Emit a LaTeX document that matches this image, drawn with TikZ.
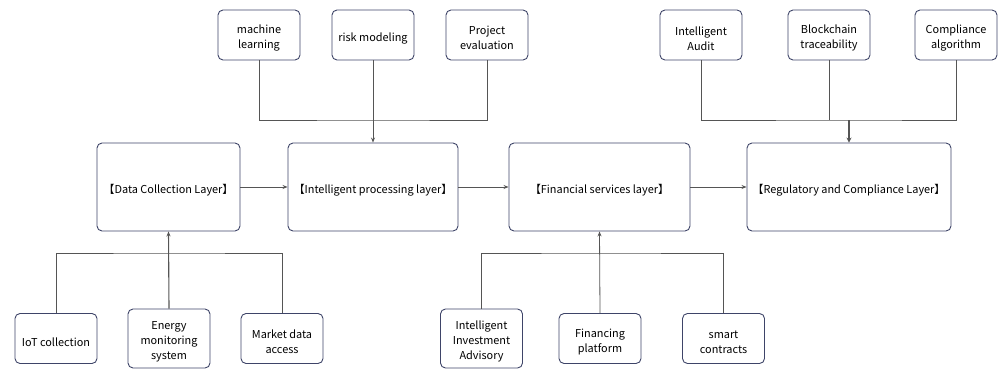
\documentclass[tikz,border=0pt]{standalone}
\usepackage{fontspec}
\setmainfont{Noto Sans CJK SC}
\usetikzlibrary{arrows.meta}
\definecolor{boxline}{HTML}{3E4468}
\definecolor{conn}{HTML}{555555}
\tikzset{
  txt/.style={align=center, font=\fontsize{10.9}{15}\selectfont, inner sep=0pt, yshift=-3.3pt},
  box/.style={draw=boxline, line width=0.9pt, rounded corners=5pt, inner sep=0pt,
    label={[txt]center:{#1}}},
  small/.style={box={#1}, minimum width=82pt, minimum height=50pt},
  tall/.style={box={#1}, minimum width=82pt, minimum height=59pt},
  layer/.style={box={#1}, minimum height=88pt},
  link/.style={draw=conn, line width=0.8pt},
  arr/.style={link, -{Stealth[length=5pt,width=4pt]}},
}
\begin{document}
\begin{tikzpicture}[x=1pt,y=-1pt]
\useasboundingbox (0,0) rectangle (1000,369);
% layers
\node[layer={【Data Collection Layer】}, minimum width=143pt] (dcl) at (168.5,187) {};
\node[layer={【Intelligent processing layer】}, minimum width=170pt] (ipl) at (373,187) {};
\node[layer={【Financial services layer】}, minimum width=181pt] (fsl) at (599.5,187) {};
\node[layer={【Regulatory and Compliance Layer】}, minimum width=204pt] (rcl) at (849,187) {};
% top boxes
\node[small={machine\\learning}] (ml) at (259,35) {};
\node[small={risk modeling}] (rm) at (373,35) {};
\node[small={Project\\evaluation}] (pe) at (487,35) {};
\node[small={Intelligent\\Audit}] (ia) at (701,35) {};
\node[small={Blockchain\\traceability}] (bt) at (829,35) {};
\node[small={Compliance\\algorithm}] (ca) at (956,35) {};
% bottom boxes
\node[small={IoT collection}] (iot) at (56,338.5) {};
\node[tall={Energy\\monitoring\\system}] (ems) at (169,338.5) {};
\node[small={Market data\\access}] (mda) at (282,338.5) {};
\node[tall={Intelligent\\Investment\\Advisory}] (iia) at (481.5,338.5) {};
\node[small={Financing\\platform}] (fp) at (600,338.5) {};
\node[small={smart\\contracts}] (sc) at (723.5,338.5) {};
% junctions
\coordinate (j1) at (373,120);
\coordinate (j2) at (849,120);
\coordinate (j3) at (169,253);
\coordinate (j4) at (600,253);
% top-left group
\draw[link] (ml.south) |- (j1) -| (pe.south);
\draw[link] (rm.south) -- (j1);
\draw[arr] (j1) -- (ipl.north);
% top-right group
\draw[link] (ia.south) |- (j2) -| (ca.south);
\draw[link] (bt.south) -- (bt.south |- j2);
\draw[link, line width=1.4pt, -{Stealth[length=5pt,width=5pt]}] (j2) -- (rcl.north);
% bottom-left group
\draw[link] (iot.north) |- (j3) -| (mda.north);
\draw[arr, line width=1.1pt] (ems.north) -- (dcl.south);
% bottom-right group
\draw[link] (iia.north) |- (j4) -| (sc.north);
\draw[arr] (fp.north) -- (fsl.south);
% layer arrows
\draw[arr] (dcl.east) -- (ipl.west);
\draw[arr] (ipl.east) -- (fsl.west);
\draw[arr] (fsl.east) -- (rcl.west);
\end{tikzpicture}
\end{document}
